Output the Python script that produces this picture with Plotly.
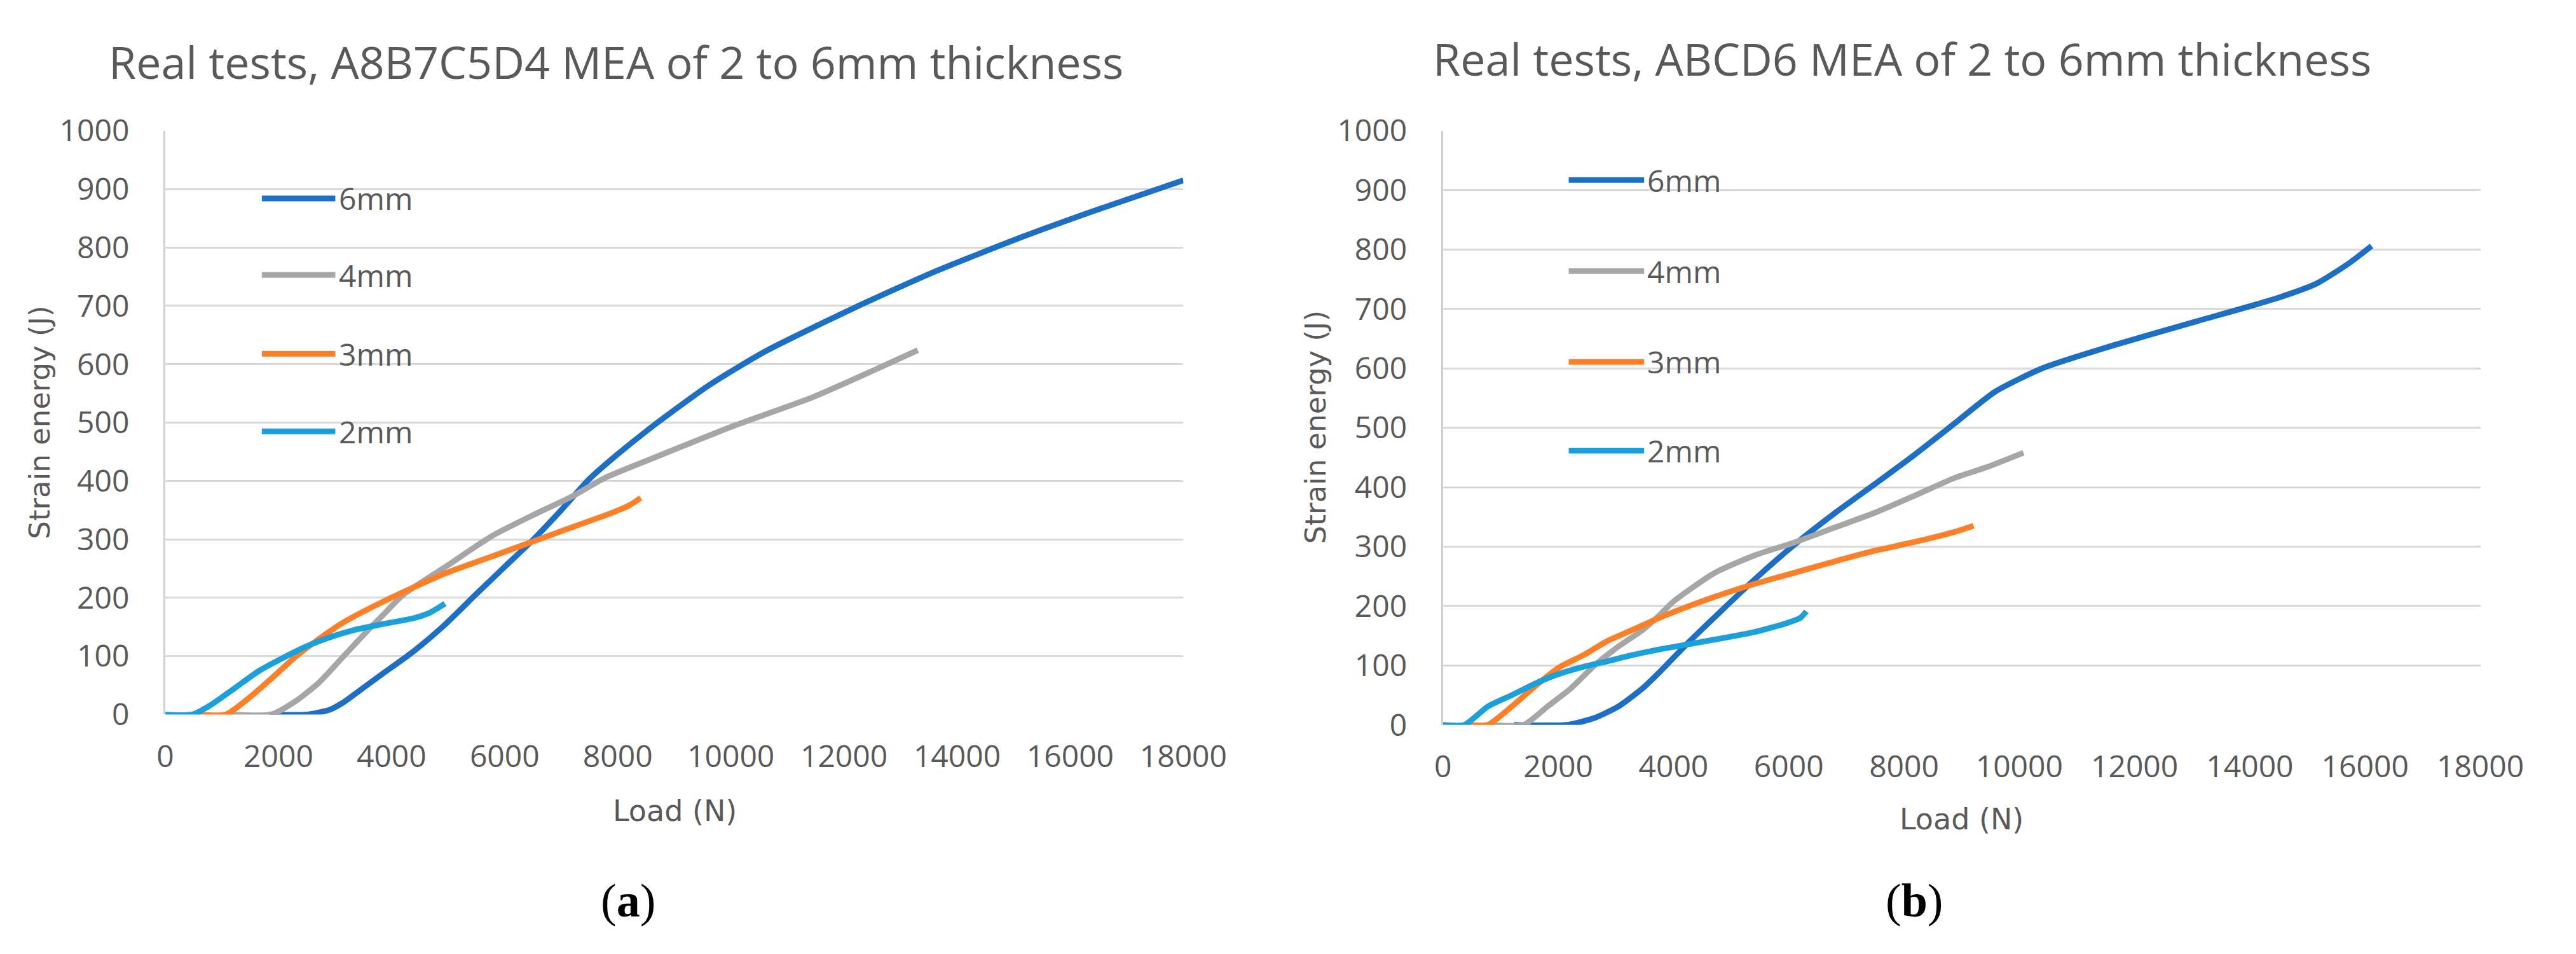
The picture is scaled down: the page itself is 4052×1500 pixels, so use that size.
import plotly.graph_objects as go

# page is shown with the browser's default 8px body margin
PAGE_W, PAGE_H = 4052, 1500
OFF = 8
W, H = PAGE_W - 2 * OFF, PAGE_H - 2 * OFF

# ---------------- data ----------------
series_names = ["6mm", "4mm", "3mm", "2mm"]
series_colors = ["#1d6fc6", "#a6a6a6", "#fd7f28", "#1ca0db"]

# (a) A8B7C5D4 MEA
a_6mm_x = [1830, 2500, 2900, 3135, 3560, 3845, 4360, 4900, 5495, 6000, 6490, 7000, 7483, 8000, 8620, 9613, 10607, 12169, 13590, 15150, 16430, 18000]
a_6mm_y = [0, 0, 8, 20, 50, 70, 106, 150, 206, 253, 298, 350, 402, 446, 494, 564, 622, 696, 758, 818, 863, 915]
a_4mm_x = [1155, 1870, 2290, 2710, 3135, 3560, 3845, 4217, 5000, 5780, 6490, 7200, 7767, 8620, 10040, 11460, 13305]
a_4mm_y = [0, 0, 22, 54, 98, 142, 170, 206, 256, 306, 341, 374, 405, 439, 494, 544, 624]
a_3mm_x = [560, 1070, 1450, 1870, 2290, 2710, 3135, 3845, 4927, 5780, 6490, 7200, 7910, 8200, 8406]
a_3mm_y = [0, 0, 26, 61, 98, 129, 157, 193, 241, 271, 296, 321, 346, 358, 371]
a_2mm_x = [0, 480, 815, 1240, 1660, 2080, 2500, 2930, 3350, 3845, 4390, 4690, 4945]
a_2mm_y = [0, 0, 17, 46, 75, 97, 117, 133, 145, 155, 165, 175, 190]

# (b) ABCD6 MEA
b_6mm_x = [1232, 2150, 2640, 3060, 3470, 3750, 4283, 5399, 6096, 6794, 7561, 8189, 8886, 9584, 10421, 11676, 13071, 14466, 15163, 15722, 16112]
b_6mm_y = [0, 0, 12, 32, 62, 88, 141, 244, 303, 356, 410, 455, 508, 561, 601, 640, 679, 718, 743, 777, 806]
b_4mm_x = [820, 1400, 1815, 2225, 2640, 3060, 3470, 3750, 4004, 4701, 5399, 6096, 6794, 7491, 8189, 8886, 9444, 10072]
b_4mm_y = [0, 0, 31, 62, 101, 133, 160, 184, 208, 255, 285, 307, 332, 357, 386, 416, 434, 458]
b_3mm_x = [453, 778, 1195, 1610, 2020, 2430, 2850, 3265, 3750, 4004, 4701, 5399, 6096, 6794, 7491, 8189, 8886, 9207]
b_3mm_y = [0, 0, 31, 66, 97, 117, 141, 159, 180, 190, 215, 237, 256, 275, 293, 308, 325, 335]
b_2mm_x = [0, 370, 780, 1195, 1610, 2020, 2430, 2850, 3265, 3750, 4283, 5399, 5957, 6200, 6305]
b_2mm_y = [0, 0, 31, 50, 70, 86, 97.5, 107, 117, 127, 136, 156, 171, 180, 191]

titles = ["Real tests, A8B7C5D4 MEA of 2 to 6mm thickness",
          "Real tests, ABCD6 MEA of 2 to 6mm thickness"]
x_title = "Load (N)"
y_title = "Strain energy (J)"
panel_labels = ["(<b>a</b>)", "(<b>b</b>)"]
x_ticks = [0, 2000, 4000, 6000, 8000, 10000, 12000, 14000, 16000, 18000]
y_ticks = [0, 100, 200, 300, 400, 500, 600, 700, 800, 900, 1000]

panels = [
    [(a_6mm_x, a_6mm_y), (a_4mm_x, a_4mm_y), (a_3mm_x, a_3mm_y), (a_2mm_x, a_2mm_y)],
    [(b_6mm_x, b_6mm_y), (b_4mm_x, b_4mm_y), (b_3mm_x, b_3mm_y), (b_2mm_x, b_2mm_y)],
]

# ---------------- layout geometry (page pixels) ----------------
def px(x):
    return (x - OFF) / W

def py(y):
    return 1 - (y - OFF) / H

plot_boxes = [(251, 1886, 179, 1139), (2303, 3969, 179, 1156)]
title_pos = [(975, 65), (3040, 60)]
xtitle_pos = [(1069, 1297), (3136, 1311)]
ytitle_pos = [(49, 659), (2098, 667)]
label_pos = [(994, 1445), (3060, 1445)]
legend_line = [(0.0948, 0.167, [0.884, 0.753, 0.618, 0.485]),
               (0.1212, 0.1939, [0.917, 0.7636, 0.611, 0.4616])]

FONT = "Open Sans"
AXFONT = "DejaVu Sans"
GREY = "#595959"

fig = go.Figure()
annotations = []
shapes = []

for i, panel in enumerate(panels):
    xa = "x" if i == 0 else "x2"
    ya = "y" if i == 0 else "y2"
    for (xs, ys), name, col in zip(panel, series_names, series_colors):
        fig.add_trace(go.Scatter(x=xs, y=ys, mode="lines", name=name,
                                 line=dict(color=col, width=9, shape="spline", smoothing=0.6),
                                 xaxis=xa, yaxis=ya, showlegend=False))
    x0, x1, y0, y1 = plot_boxes[i]
    axis_common = dict(tickfont=dict(family=FONT, size=48, color=GREY))
    fig.update_layout(**{
        ("xaxis" if i == 0 else "xaxis2"): dict(
            domain=[px(x0), px(x1)], anchor=ya, range=[0, 18000],
            tickvals=x_ticks, ticktext=[str(v) for v in x_ticks],
            showgrid=False, zeroline=False, showline=False,
            ticks="outside", ticklen=24, tickcolor="rgba(0,0,0,0)", **axis_common),
        ("yaxis" if i == 0 else "yaxis2"): dict(
            domain=[py(y1), py(y0)], anchor=xa, range=[0, 1000],
            tickvals=y_ticks, ticktext=[str(v) for v in y_ticks],
            showgrid=True, gridcolor="#d9d9d9", gridwidth=3, zeroline=False,
            showline=True, linecolor="#d0d0d0", linewidth=3,
            ticks="outside", ticklen=44, tickcolor="rgba(0,0,0,0)", **axis_common),
    })
    tx, ty = title_pos[i]
    annotations.append(dict(text=titles[i], x=px(tx), y=py(ty), xref="paper", yref="paper",
                            xanchor="center", yanchor="middle", showarrow=False,
                            font=dict(family=FONT, size=70, color=GREY)))
    xx, xy = xtitle_pos[i]
    annotations.append(dict(text=x_title, x=px(xx), y=py(xy), xref="paper", yref="paper",
                            xanchor="center", yanchor="middle", showarrow=False,
                            font=dict(family=AXFONT, size=46, color=GREY)))
    yx, yy = ytitle_pos[i]
    annotations.append(dict(text=y_title, x=px(yx), y=py(yy), xref="paper", yref="paper",
                            xanchor="center", yanchor="middle", showarrow=False, textangle=-90,
                            font=dict(family=AXFONT, size=45, color=GREY)))
    lx, ly = label_pos[i]
    annotations.append(dict(text=panel_labels[i], x=px(lx), y=py(ly), xref="paper", yref="paper",
                            xanchor="center", yanchor="middle", showarrow=False,
                            font=dict(family="Liberation Serif", size=74, color="#000000")))
    lx0, lx1, lys = legend_line[i]
    xdom = ("x" if i == 0 else "x2") + " domain"
    ydom = ("y" if i == 0 else "y2") + " domain"
    for name, col, yv in zip(series_names, series_colors, lys):
        shapes.append(dict(type="line", xref=xdom, yref=ydom, x0=lx0, x1=lx1, y0=yv, y1=yv,
                           line=dict(color=col, width=9)))
        annotations.append(dict(text=name, xref=xdom, yref=ydom, x=lx1 + 0.002, y=yv,
                                xanchor="left", yanchor="middle", showarrow=False,
                                font=dict(family=FONT, size=48, color=GREY)))

fig.update_layout(width=W, height=H, margin=dict(l=0, r=0, t=0, b=0),
                  paper_bgcolor="white", plot_bgcolor="white",
                  annotations=annotations, shapes=shapes, showlegend=False)

fig.write_html("out.html")
